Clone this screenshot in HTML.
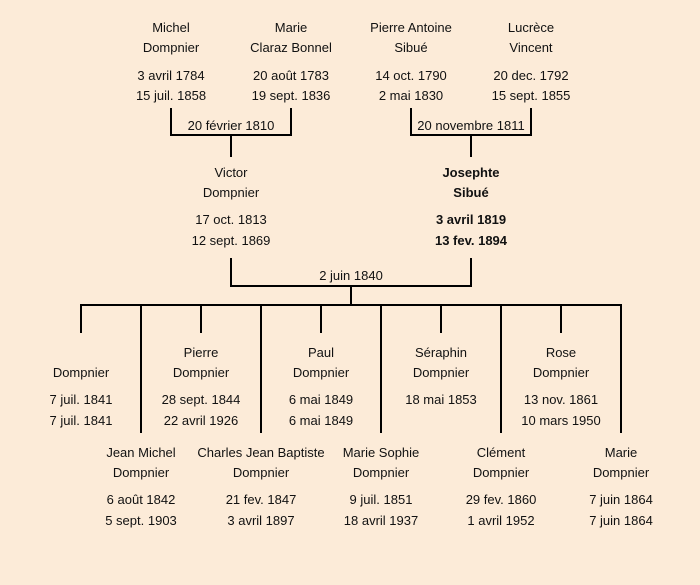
<!DOCTYPE html>
<html><head><meta charset="utf-8"><style>
html,body{margin:0;padding:0;background:#fcebd8;}
svg{display:block}
text{font-family:"Liberation Sans","DejaVu Sans",sans-serif;font-size:13px;fill:#111;text-anchor:middle}
.b{font-weight:bold}
</style></head><body>
<svg width="700" height="585" xmlns="http://www.w3.org/2000/svg">
<rect width="700" height="585" fill="#fcebd8"/>
<g stroke="#000" stroke-width="2" fill="none">
<polyline points="171,108 171,135 291,135 291,108"/>
<line x1="231" y1="135" x2="231" y2="157"/>
<polyline points="411,108 411,135 531,135 531,108"/>
<line x1="471" y1="135" x2="471" y2="157"/>
<polyline points="231,258 231,286 471,286 471,258"/>
<line x1="351" y1="286" x2="351" y2="305"/>
<line x1="80" y1="305" x2="622" y2="305"/>
<line x1="81" y1="305" x2="81" y2="333"/>
<line x1="201" y1="305" x2="201" y2="333"/>
<line x1="321" y1="305" x2="321" y2="333"/>
<line x1="441" y1="305" x2="441" y2="333"/>
<line x1="561" y1="305" x2="561" y2="333"/>
<line x1="141" y1="305" x2="141" y2="433"/>
<line x1="261" y1="305" x2="261" y2="433"/>
<line x1="381" y1="305" x2="381" y2="433"/>
<line x1="501" y1="305" x2="501" y2="433"/>
<line x1="621" y1="305" x2="621" y2="433"/>
</g>
<g>
<text x="171" y="32">Michel</text><text x="171" y="52">Dompnier</text><text x="171" y="80">3 avril 1784</text><text x="171" y="100">15 juil. 1858</text>
<text x="291" y="32">Marie</text><text x="291" y="52">Claraz Bonnel</text><text x="291" y="80">20 août 1783</text><text x="291" y="100">19 sept. 1836</text>
<text x="411" y="32">Pierre Antoine</text><text x="411" y="52">Sibué</text><text x="411" y="80">14 oct. 1790</text><text x="411" y="100">2 mai 1830</text>
<text x="531" y="32">Lucrèce</text><text x="531" y="52">Vincent</text><text x="531" y="80">20 dec. 1792</text><text x="531" y="100">15 sept. 1855</text>
<text x="231" y="130">20 février 1810</text>
<text x="471" y="130">20 novembre 1811</text>
<text x="231" y="177">Victor</text><text x="231" y="197">Dompnier</text><text x="231" y="224">17 oct. 1813</text><text x="231" y="245">12 sept. 1869</text>
<text class="b" x="471" y="177">Josephte</text><text class="b" x="471" y="197">Sibué</text><text class="b" x="471" y="224">3 avril 1819</text><text class="b" x="471" y="245">13 fev. 1894</text>
<text x="351" y="280">2 juin 1840</text>
<text x="81" y="377">Dompnier</text><text x="81" y="404">7 juil. 1841</text><text x="81" y="425">7 juil. 1841</text>
<text x="201" y="357">Pierre</text><text x="201" y="377">Dompnier</text><text x="201" y="404">28 sept. 1844</text><text x="201" y="425">22 avril 1926</text>
<text x="321" y="357">Paul</text><text x="321" y="377">Dompnier</text><text x="321" y="404">6 mai 1849</text><text x="321" y="425">6 mai 1849</text>
<text x="441" y="357">Séraphin</text><text x="441" y="377">Dompnier</text><text x="441" y="404">18 mai 1853</text>
<text x="561" y="357">Rose</text><text x="561" y="377">Dompnier</text><text x="561" y="404">13 nov. 1861</text><text x="561" y="425">10 mars 1950</text>
<text x="141" y="457">Jean Michel</text><text x="141" y="477">Dompnier</text><text x="141" y="504">6 août 1842</text><text x="141" y="525">5 sept. 1903</text>
<text x="261" y="457">Charles Jean Baptiste</text><text x="261" y="477">Dompnier</text><text x="261" y="504">21 fev. 1847</text><text x="261" y="525">3 avril 1897</text>
<text x="381" y="457">Marie Sophie</text><text x="381" y="477">Dompnier</text><text x="381" y="504">9 juil. 1851</text><text x="381" y="525">18 avril 1937</text>
<text x="501" y="457">Clément</text><text x="501" y="477">Dompnier</text><text x="501" y="504">29 fev. 1860</text><text x="501" y="525">1 avril 1952</text>
<text x="621" y="457">Marie</text><text x="621" y="477">Dompnier</text><text x="621" y="504">7 juin 1864</text><text x="621" y="525">7 juin 1864</text>
</g>
</svg>
</body></html>
